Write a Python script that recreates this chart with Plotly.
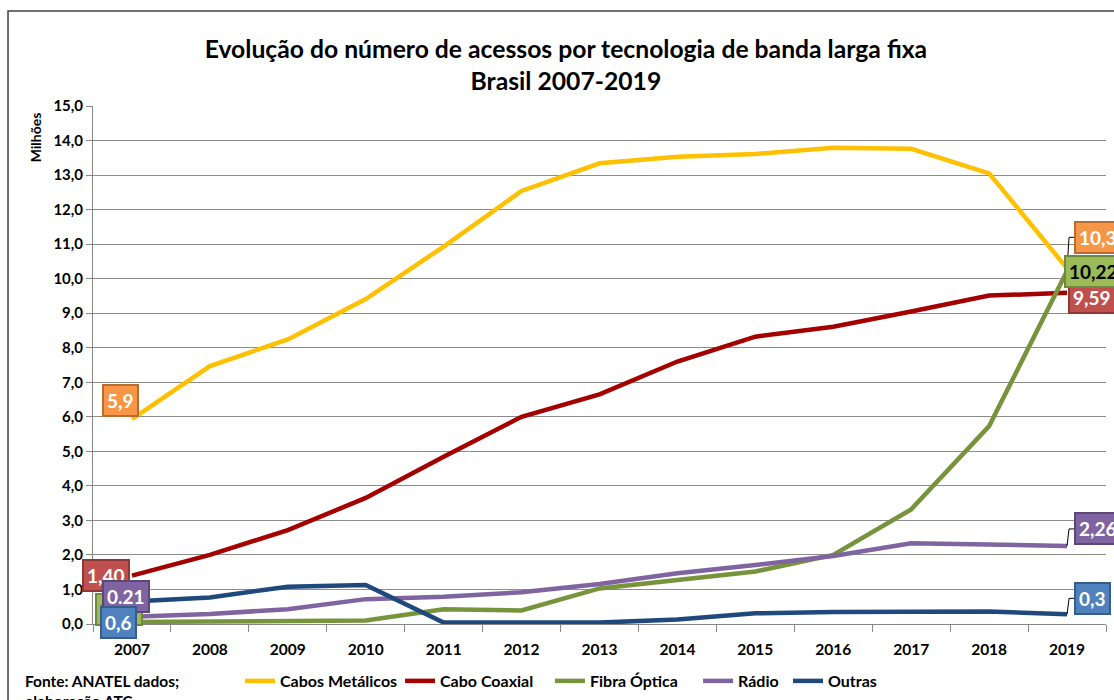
import plotly.graph_objects as go

years = ["2007", "2008", "2009", "2010", "2011", "2012", "2013", "2014", "2015", "2016", "2017", "2018", "2019"]

cabos_metalicos = [5.93, 7.47, 8.24, 9.41, 10.93, 12.54, 13.34, 13.53, 13.61, 13.79, 13.76, 13.05, 10.30]
cabo_coaxial = [1.40, 2.00, 2.72, 3.65, 4.84, 6.00, 6.65, 7.60, 8.32, 8.61, 9.05, 9.51, 9.59]
fibra_optica = [0.06, 0.07, 0.07, 0.10, 0.43, 0.39, 1.03, 1.27, 1.52, 2.00, 3.32, 5.73, 10.22]
radio = [0.21, 0.29, 0.43, 0.72, 0.79, 0.92, 1.16, 1.47, 1.71, 1.97, 2.34, 2.29, 2.26]
outras = [0.65, 0.77, 1.08, 1.13, 0.04, 0.04, 0.04, 0.13, 0.31, 0.35, 0.36, 0.36, 0.28]

series_names = ["Cabos Metálicos", "Cabo Coaxial", "Fibra Óptica", "Rádio", "Outras"]
series_values = [cabos_metalicos, cabo_coaxial, fibra_optica, radio, outras]
line_colors = ["#FFC000", "#A50000", "#77933C", "#8064A2", "#1F497D"]

first_labels = ["5,9", "1,40", "0,04", "0.21", "0,6"]
last_labels = ["10,3", "9,59", "10,22", "2,26", "0,3"]

y_ticks = list(range(0, 16))
y_ticktext = [f"{v},0" for v in y_ticks]

box_fill = ["#F79646", "#C0504D", "#9BBB59", "#8064A2", "#4F81BD"]
box_border = ["#B66D31", "#8C3836", "#71893F", "#5C4776", "#385D8A"]
box_text = ["white", "white", "black", "white", "white"]

FONT = "Lato"
FIRST = 0                 # category index of first year
LAST = len(years) - 1     # category index of last year

# one legend per series so each entry sits where the reference puts it
legend_ids = ["legend", "legend2", "legend3", "legend4", "legend5"]
legend_x = [0.1451, 0.3031, 0.4511, 0.5973, 0.6861]

fig = go.Figure()
for name, vals, col, lg in zip(series_names, series_values, line_colors, legend_ids):
    fig.add_trace(go.Scatter(x=years, y=vals, name=name, mode="lines", legend=lg,
                             showlegend=True, line=dict(color=col, width=4.5)))

annotations = []
# first-year labels: (xshift, yshift) in pixels, drawn in stacking order
first_offsets = {0: (-11, 19), 1: (-26, 0), 2: (-13, 12), 3: (-6, 20), 4: (-13, -21)}
for i in [0, 1, 2, 3, 4]:
    dx, dy = first_offsets[i]
    annotations.append(dict(
        x=FIRST, y=series_values[i][0], xref="x", yref="y", text=first_labels[i],
        showarrow=False, xshift=dx, yshift=dy, xanchor="center", yanchor="middle",
        font=dict(family=FONT, size=19, color=box_text[i], weight="bold"),
        bgcolor=box_fill[i], bordercolor=box_border[i], borderwidth=2, borderpad=3))

# last-year labels
last_offsets = {0: (7, 31), 1: (1, -5), 2: (-3, 0), 3: (7, 17), 4: (7, 16)}
for i in [0, 1, 2, 3, 4]:
    dx, dy = last_offsets[i]
    annotations.append(dict(
        x=LAST, y=series_values[i][-1], xref="x", yref="y", text=last_labels[i],
        showarrow=False, xshift=dx, yshift=dy, xanchor="left", yanchor="middle",
        font=dict(family=FONT, size=19, color=box_text[i], weight="bold"),
        bgcolor=box_fill[i], bordercolor=box_border[i], borderwidth=2, borderpad=3))

annotations.append(dict(
    x=-0.057, y=0.94, xref="paper", yref="paper", text="Milhões", textangle=-90,
    showarrow=False, xanchor="center", yanchor="middle",
    font=dict(family=FONT, size=14, color="black", weight="bold")))
annotations.append(dict(
    x=-0.069, y=-0.088, xref="paper", yref="paper", text="Fonte: ANATEL dados;<br>elaboração ATC",
    showarrow=False, xanchor="left", yanchor="top", align="left",
    font=dict(family=FONT, size=15.5, color="black", weight="bold")))

shapes = [dict(type="rect", xref="paper", yref="paper", x0=-0.0839, x1=1.05, y0=-0.4, y1=1.1834,
               line=dict(color="#404040", width=1.5), fillcolor="rgba(0,0,0,0)", layer="below")]
# leader lines for offset end labels
for i in [0, 3, 4]:
    dx, dy = last_offsets[i]
    shapes.append(dict(type="path", xref="x", yref="y", xsizemode="pixel", ysizemode="pixel",
                       xanchor=LAST, yanchor=series_values[i][-1],
                       path=f"M0,0 L2,{dy} L{dx},{dy}",
                       line=dict(color="black", width=1)))

legend_style = dict(orientation="h", y=-0.11, xanchor="left", yanchor="middle",
                    font=dict(family=FONT, size=16, color="black", weight="bold"),
                    itemwidth=30, bgcolor="rgba(0,0,0,0)", visible=True)

fig.update_layout(
    width=1114, height=700, showlegend=True,
    margin=dict(l=93, r=8, t=106, b=76, autoexpand=False),
    paper_bgcolor="white", plot_bgcolor="white",
    title=dict(text="Evolução do número de acessos por tecnologia de banda larga fixa<br>Brasil 2007-2019",
               x=0.508, xanchor="center", y=0.917, yanchor="middle",
               font=dict(family=FONT, size=24.7, color="black", weight="bold")),
    xaxis=dict(type="category", range=[-0.5, 12.5], showgrid=False, automargin=False,
               showline=True, linecolor="#868686", linewidth=1,
               ticks="outside", tickson="boundaries", ticklen=7, tickcolor="#868686",
               tickfont=dict(family=FONT, size=15.5, color="black", weight="bold"),
               ticklabelstandoff=11),
    yaxis=dict(range=[0, 15], tickvals=y_ticks, ticktext=y_ticktext, automargin=False,
               showgrid=True, gridcolor="#8C8C8C", gridwidth=1,
               showline=True, linecolor="#868686", linewidth=1,
               ticks="outside", ticklen=6, tickcolor="#868686", zeroline=False,
               tickfont=dict(family=FONT, size=15, color="black", weight="bold")),
    annotations=annotations,
    shapes=shapes,
)
for lg, lx in zip(legend_ids, legend_x):
    fig.update_layout({lg: dict(x=lx, **legend_style)})

fig.write_html("out.html", config={"displayModeBar": False},
               post_script="document.body.style.margin='0px';document.body.style.overflow='hidden';")
